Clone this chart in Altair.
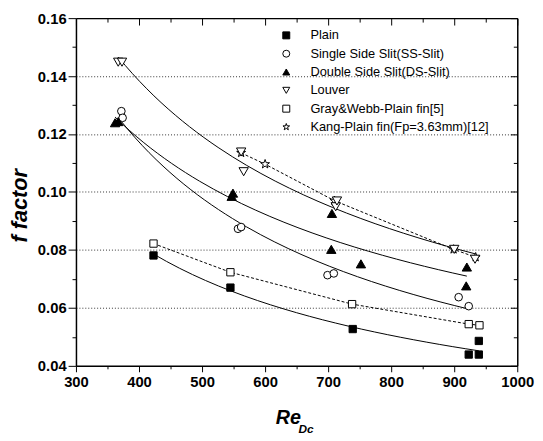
import altair as alt
import pandas as pd

# ---------------- data ----------------
series_names = [
    "Plain",
    "Single Side Slit(SS-Slit)",
    "Double Side Slit(DS-Slit)",
    "Louver",
    "Gray&Webb-Plain fin[5]",
    "Kang-Plain fin(Fp=3.63mm)[12]",
]

plain_re = [423, 545, 739, 923, 939, 939]
plain_f = [0.0781, 0.0670, 0.0527, 0.0439, 0.0439, 0.0486]

ss_re = [372, 374, 557, 562, 699, 709, 907, 923]
ss_f = [0.1279, 0.1256, 0.0873, 0.0879, 0.0713, 0.0719, 0.0637, 0.0606]

ds_re = [362, 367, 547, 549, 705, 706, 752, 919, 920]
ds_f = [0.1239, 0.1243, 0.0985, 0.0996, 0.0802, 0.0926, 0.0752, 0.0676, 0.0741]

louver_re = [367, 373, 562, 566, 712, 714, 900, 933]
louver_f = [0.1448, 0.1448, 0.1138, 0.1070, 0.0949, 0.0969, 0.0802, 0.0768]

gray_re = [423, 545, 738, 923, 940]
gray_f = [0.0822, 0.0723, 0.0613, 0.0544, 0.0540]

kang_re = [562, 600, 710, 899, 934]
kang_f = [0.1135, 0.1096, 0.0970, 0.0802, 0.0775]

x_ticks = list(range(300, 1001, 50))
y_ticks = [round(0.04 + 0.01 * i, 2) for i in range(13)]

fit_series = series_names[:4]
dashed_series = series_names[4:]

# ---------------- styles ----------------
STAR = ("M0,-1L0.235,-0.324L0.951,-0.309L0.380,0.124L0.588,0.809L0,0.4"
        "L-0.588,0.809L-0.380,0.124L-0.951,-0.309L-0.235,-0.324Z")
shape_range = ["square", "circle", "triangle-up", "triangle-down", "square", STAR]
fill_range = ["black", "white", "black", "white", "white", "white"]
stroke_range = ["black"] * 6
marker_size = dict(zip(series_names, [55, 60, 90, 90, 55, 90]))

# drawing order: hidden/open first, louver last
draw_order = [
    (series_names[5], kang_re, kang_f),
    (series_names[4], gray_re, gray_f),
    (series_names[0], plain_re, plain_f),
    (series_names[1], ss_re, ss_f),
    (series_names[2], ds_re, ds_f),
    (series_names[3], louver_re, louver_f),
]
rows = []
for name, xs, ys in draw_order:
    for a, b in zip(xs, ys):
        rows.append({"series": name, "re": a, "f": b, "msize": marker_size[name]})
df = pd.DataFrame(rows)

PAD_L, PAD_T, PAD_R, PAD_B = 69, 7, 18, 73
W, H = 448, 353
FONT = "Liberation Sans"

x_scale = alt.Scale(domain=[300, 1000], nice=False, zero=False)
y_scale = alt.Scale(domain=[0.04, 0.16], nice=False, zero=False)

minor_x = "datum.value % 100 != 0"
minor_y = "round(datum.value * 100) % 2 == 1"

common_axis = dict(
    domainColor="black", domainWidth=1.5, tickColor="black", tickWidth=1,
    labelOverlap=False, labelFlush=False,
)

x_axis_main = alt.Axis(
    orient="bottom", values=x_ticks,
    labelExpr="datum.value % 100 == 0 ? format(datum.value, 'd') : ''",
    tickSize={"condition": {"test": minor_x, "value": 3}, "value": 6},
    grid=False, title="Re", titleFont=FONT, titleFontSize=20,
    titleFontWeight="bold", titleFontStyle="italic", titleColor="black",
    titleX=215, titleY=59, titleAlign="center", titleBaseline="alphabetic",
    labelFont=FONT, labelFontSize=15, labelFontWeight="bold", labelColor="black",
    labelPadding=3, **common_axis,
)
y_axis_main = alt.Axis(
    orient="left", values=y_ticks,
    labelExpr="round(datum.value * 100) % 2 == 0 ? format(datum.value, '.2f') : ''",
    tickSize={"condition": {"test": minor_y, "value": 4}, "value": 8},
    grid=True, gridColor="#333333", gridDash=[1, 2], gridWidth=1,
    gridOpacity={"condition": {"test": minor_y + " || datum.value < 0.045 || datum.value > 0.155", "value": 0}, "value": 1},
    title="f  factor", titleFont=FONT, titleFontSize=22, titleFontWeight="bold",
    titleFontStyle="italic", titleColor="black", titleAngle=-90,
    titleX=-57, titleY=190, titleAlign="center", titleBaseline="middle",
    labelFont=FONT, labelFontSize=15, labelFontWeight="bold", labelColor="black",
    labelPadding=2, **common_axis,
)

legend = alt.Legend(
    title=None, orient="none", legendX=207, legendY=11, padding=0,
    labelFont=FONT, labelFontSize=13, labelColor="black", labelOffset=18,
    symbolSize=50, symbolStrokeWidth=1, symbolOpacity=1,
    rowPadding=4.6, labelLimit=400,
)

fit = (
    alt.Chart(df)
    .transform_filter(alt.FieldOneOfPredicate(field="series", oneOf=fit_series))
    .transform_regression("re", "f", method="pow", groupby=["series"])
    .mark_line(color="black", strokeWidth=1)
    .encode(
        x=alt.X("re:Q", scale=x_scale, axis=None),
        y=alt.Y("f:Q", scale=y_scale, axis=None),
        detail="series:N",
    )
)

dash = (
    alt.Chart(df)
    .transform_filter(alt.FieldOneOfPredicate(field="series", oneOf=dashed_series))
    .mark_line(color="black", strokeWidth=1, strokeDash=[3, 2])
    .encode(
        x=alt.X("re:Q", scale=x_scale, axis=None),
        y=alt.Y("f:Q", scale=y_scale, axis=None),
        detail="series:N",
        order="re:Q",
    )
)

points = (
    alt.Chart(df)
    .mark_point(filled=True, strokeWidth=1, opacity=1)
    .encode(
        x=alt.X("re:Q", scale=x_scale, axis=x_axis_main),
        y=alt.Y("f:Q", scale=y_scale, axis=y_axis_main),
        shape=alt.Shape("series:N", scale=alt.Scale(domain=series_names, range=shape_range), legend=legend),
        fill=alt.Fill("series:N", scale=alt.Scale(domain=series_names, range=fill_range), legend=legend),
        stroke=alt.Stroke("series:N", scale=alt.Scale(domain=series_names, range=stroke_range), legend=legend),
        size=alt.Size("msize:Q", scale=None),
    )
)

frame = (
    alt.Chart(df)
    .mark_point(opacity=0)
    .encode(
        x=alt.X("re:Q", scale=x_scale, axis=alt.Axis(
            orient="bottom", offset=-H, values=x_ticks, labels=False, title=None,
            tickSize={"condition": {"test": minor_x, "value": 4}, "value": 7},
            grid=False, **common_axis)),
        y=alt.Y("f:Q", scale=y_scale, axis=alt.Axis(
            orient="left", offset=-W, values=y_ticks, labels=False, title=None,
            tickSize={"condition": {"test": minor_y, "value": 4}, "value": 7},
            grid=False, **common_axis)),
    )
)

dc = (
    alt.Chart(pd.DataFrame({"t": ["Dc"]}))
    .mark_text(font=FONT, fontSize=12, fontWeight="bold", fontStyle="italic",
               align="left", baseline="alphabetic", color="black")
    .encode(x=alt.value(226), y=alt.value(421), text="t:N")
)

chart = (
    alt.layer(fit, dash, points, frame, dc)
    .resolve_axis(x="independent", y="independent")
    .properties(
        width=W, height=H, autosize=alt.AutoSizeParams(type="none"),
        padding={"left": PAD_L, "top": PAD_T, "right": PAD_R, "bottom": PAD_B},
    )
    .configure_view(stroke=None)
    .configure(background="white")
)

chart.save("out.html", embed_options={"renderer": "svg", "actions": False})
